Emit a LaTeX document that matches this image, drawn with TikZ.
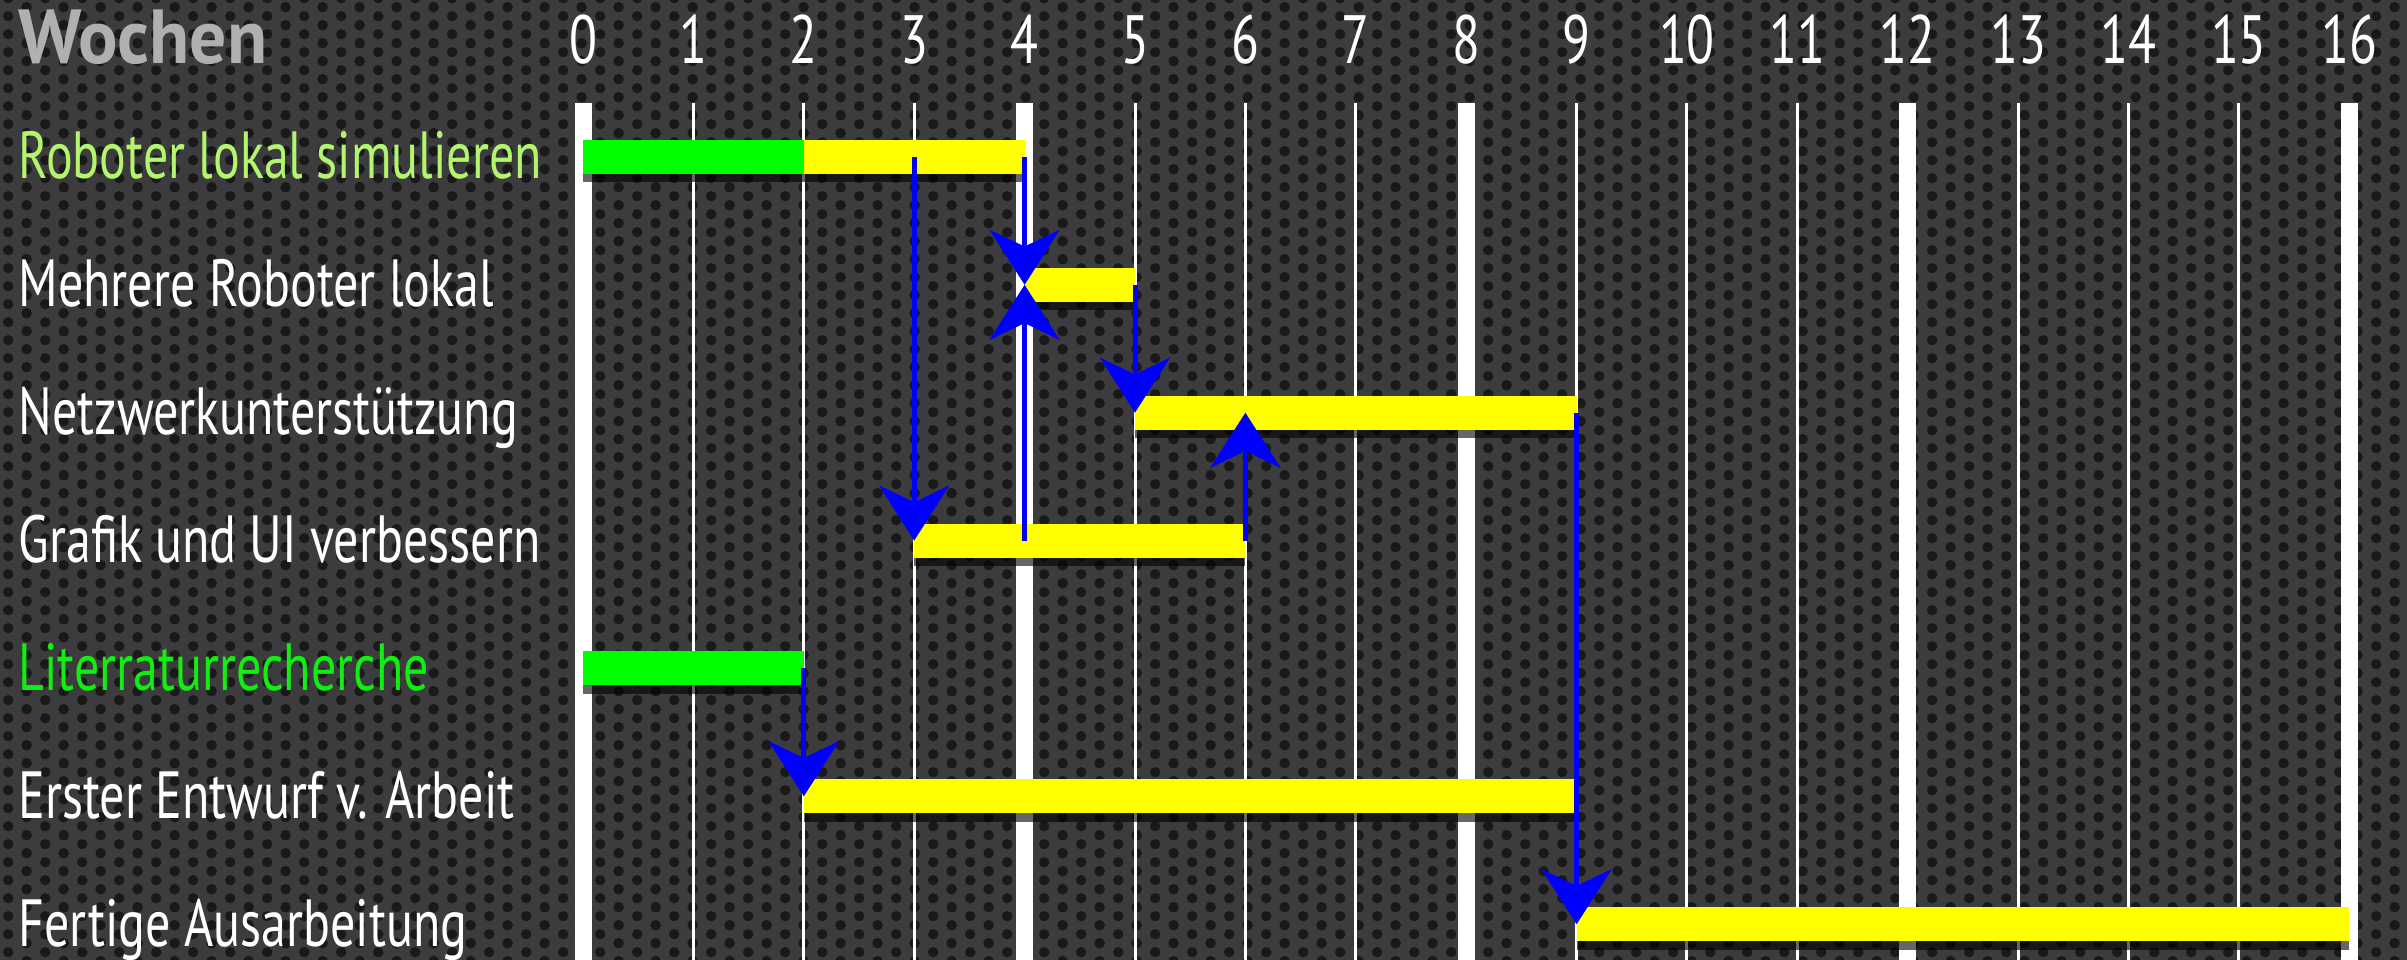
\documentclass[tikz,border=0pt]{standalone}
\usepackage{fontspec}
\setmainfont{PT Sans}[FakeStretch=0.75]
\newfontfamily\kopffont{PT Sans}[FakeStretch=0.96]
\usepackage{tikz}
\usetikzlibrary{arrows.meta,patterns,shadows}
\usetikzlibrary{positioning}

\definecolor{blech}{HTML}{3C3C3E}
\definecolor{kopfgrau}{HTML}{B0B0B0}
\definecolor{hellgruen}{HTML}{B4F56E}
\definecolor{lgruen}{HTML}{11EE11}
\definecolor{gruen}{HTML}{00FF00}
\definecolor{gelb}{HTML}{FFFF00}
\definecolor{pfeilblau}{HTML}{0000FF}

% Lochblech
\pgfdeclarepatternformonly{loecher}{\pgfqpoint{0pt}{0pt}}{\pgfqpoint{11.22pt}{5.49pt}}{\pgfqpoint{11.22pt}{5.49pt}}{
  \pgfpathcircle{\pgfqpoint{2.805pt}{2.745pt}}{1.6pt}
  \pgfpathcircle{\pgfqpoint{8.415pt}{0pt}}{1.6pt}
  \pgfpathcircle{\pgfqpoint{8.415pt}{5.49pt}}{1.6pt}
  \pgfusepath{fill}
}

\begin{document}
\begin{tikzpicture}[x=33.12pt,y=38.37pt,
  lbl/.style={anchor=base west,inner sep=0pt,font=\fontsize{20}{22}\selectfont},
  zahl/.style={anchor=base,inner sep=0pt,text=white,font=\fontsize{20.5}{22}\selectfont},
  balken/.style={fill=#1,anchor=west,minimum height=10.2pt,inner sep=0pt,outer sep=0pt,
    drop shadow={shadow xshift=0pt,shadow yshift=-2.5pt,opacity=.6,fill=black}},
  pfeil/.style={draw=pfeilblau,line width=1.5pt,-{Stealth[length=16.5pt,width=21pt,inset=5pt]}}]
\useasboundingbox (-5.281,0.2267) rectangle (16.522,-7.279);
\fill[blech] (-5.281,0.2267) rectangle (16.522,-7.279);
\fill[pattern=loecher,pattern color=black!90] (-5.281,0.2267) rectangle (16.522,-7.279);

\node[lbl,text=kopfgrau,font=\fontsize{23}{24}\kopffont\bfseries] (wochen) at (-5.118,-0.266) {Wochen};
\foreach \w [evaluate=\w as \lw using {mod(\w,4)==0 ? 5.1 : 0.9}] in {0,...,16}{
  \coordinate (w\w) at (\w,-0.579);
  \node[zahl] (z\w) at (\w,-0.266) {\w};
  \draw[white,line width=\lw pt] (w\w) -- ++(0,-6.7);
}

\foreach \txt/\farbe [count=\r] in {
  Roboter lokal simulieren/hellgruen,
  Mehrere Roboter lokal/white,
  Netzwerkunterstützung/white,
  Grafik und UI verbessern/white,
  Literraturrecherche/lgruen,
  Erster Entwurf v. Arbeit/white,
  Fertige Ausarbeitung/white}
  \node[lbl,text=\farbe] (l\r) at (-5.118,{-\r-0.17}) {\txt};

\foreach \r/\a/\b/\farbe/\n in {1/0/2/gruen/b1a,1/2/4/gelb/b1,2/4/5/gelb/b2,3/5/9/gelb/b3,
  4/3/6/gelb/b4,5/0/2/gruen/b5,6/2/9/gelb/b6,7/9/16/gelb/b7}
  \node[balken=\farbe,minimum width={(\b-\a)*33.12pt}] (\n) at (\a,-\r) {};

\foreach \s/\z/\w in {b1/b4/3,b1/b2/4,b4/b2/4,b2/b3/5,b4/b3/6,b5/b6/2,b3/b7/9}
  \draw[pfeil] (w\w |- \s) -- (w\w |- \z);
\end{tikzpicture}
\end{document}
